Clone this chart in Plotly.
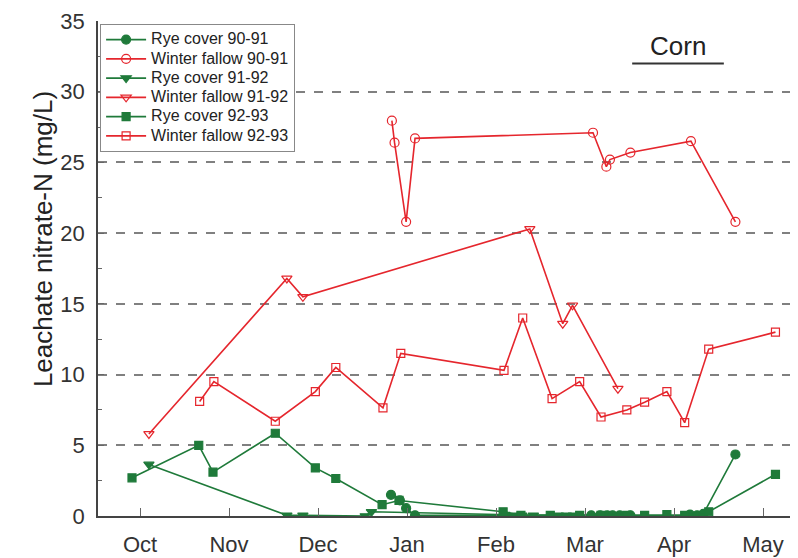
import plotly.graph_objects as go

# x = months after 1 Oct (tick 0 = Oct ... 7 = May)
month_ticks = [0, 1, 2, 3, 4, 5, 6, 7]
month_labels = ['Oct', 'Nov', 'Dec', 'Jan', 'Feb', 'Mar', 'Apr', 'May']

# Rye cover 90-91
rye_9091_x = [2.82, 2.92, 2.99, 3.09, 5.07, 5.17, 5.25, 5.31, 5.39, 5.51, 6.18, 6.26, 6.33, 6.69]
rye_9091_y = [1.5, 1.1, 0.55, 0.05, 0.05, 0.05, 0.05, 0.05, 0.05, 0.05, 0.1, 0.05, 0.15, 4.35]

# Winter fallow 90-91
fal_9091_x = [2.83, 2.86, 2.99, 3.09, 5.09, 5.24, 5.28, 5.51, 6.19, 6.69]
fal_9091_y = [27.95, 26.4, 20.8, 26.7, 27.1, 24.7, 25.2, 25.7, 26.5, 20.8]

# Rye cover 91-92
rye_9192_x = [0.10, 1.65, 1.83, 2.53, 2.60, 4.10, 4.19, 4.29, 4.42, 4.70, 4.79, 4.87, 5.37]
rye_9192_y = [3.65, 0.05, 0.05, 0.0, 0.3, 0.1, 0.05, 0.05, 0.05, 0.05, 0.05, 0.05, 0.05]

# Winter fallow 91-92
fal_9192_x = [0.10, 1.65, 1.83, 4.38, 4.75, 4.86, 5.37]
fal_9192_y = [5.8, 16.8, 15.5, 20.3, 13.6, 14.9, 9.0]

# Rye cover 92-93
rye_9293_x = [-0.09, 0.66, 0.82, 1.52, 1.97, 2.20, 2.72, 2.91, 4.08, 4.28, 4.61, 4.94,
              5.18, 5.47, 5.67, 5.92, 6.12, 6.39, 7.14]
rye_9293_y = [2.7, 5.0, 3.1, 5.85, 3.4, 2.65, 0.8, 1.1, 0.3, 0.05, 0.05, 0.05,
              0.05, 0.05, 0.05, 0.1, 0.05, 0.3, 2.95]

# Winter fallow 92-93
fal_9293_x = [0.67, 0.83, 1.52, 1.97, 2.20, 2.73, 2.93, 4.09, 4.30, 4.63, 4.94, 5.18,
              5.47, 5.67, 5.92, 6.12, 6.39, 7.14]
fal_9293_y = [8.1, 9.5, 6.7, 8.8, 10.5, 7.65, 11.5, 10.3, 14.0, 8.3, 9.5, 7.0,
              7.5, 8.05, 8.8, 6.6, 11.8, 13.0]

# corn season bar
corn_start, corn_end, corn_level = 5.53, 6.56, 32.0

GREEN = '#1f7a3a'
RED = '#e5262d'
FONT = 'Arial, Liberation Sans, sans-serif'

series = [
    ('Rye cover 90-91', rye_9091_x, rye_9091_y, GREEN, 'circle', 9),
    ('Winter fallow 90-91', fal_9091_x, fal_9091_y, RED, 'circle-open', 9),
    ('Rye cover 91-92', rye_9192_x, rye_9192_y, GREEN, 'triangle-down', 9),
    ('Winter fallow 91-92', fal_9192_x, fal_9192_y, RED, 'triangle-down-open', 9),
    ('Rye cover 92-93', rye_9293_x, rye_9293_y, GREEN, 'square', 8),
    ('Winter fallow 92-93', fal_9293_x, fal_9293_y, RED, 'square-open', 8),
]

fig = go.Figure()

# empty trace carrying the dashed grid on a second y axis
fig.add_trace(go.Scatter(x=[None], y=[None], yaxis='y2', showlegend=False, hoverinfo='skip'))

for name, xs, ys, col, sym, size in series:
    fig.add_trace(go.Scatter(
        x=xs, y=ys, mode='lines+markers',
        # bigger text inside a tighter legend row
        name=f'<span style="font-size:16px">{name}</span>',
        line=dict(color=col, width=1.6),
        marker=dict(symbol=sym, size=size, color=col,
                    line=dict(color=col, width=1.2)),
    ))

fig.add_annotation(x=(corn_start + corn_end) / 2, y=corn_level, yshift=17,
                   text='Corn', showarrow=False,
                   font=dict(family=FONT, size=26, color='#222'))
fig.add_shape(type='line', x0=corn_start, x1=corn_end, y0=corn_level, y1=corn_level,
              line=dict(color='#333', width=2))

# y title as a paper annotation (it sits above the plot centre in the original)
fig.add_annotation(xref='paper', yref='paper', x=-0.104, y=0.56, textangle=-90,
                   text='Leachate nitrate-N (mg/L)', showarrow=False,
                   font=dict(family=FONT, size=26, color='#222'))

# page body adds an 8px offset, so the figure is 8px smaller than the window
fig.update_layout(
    width=790, height=550,
    margin=dict(l=90, r=1, t=11, b=42),
    paper_bgcolor='white', plot_bgcolor='white',
    font=dict(family=FONT, color='#333'),
    legend=dict(x=0.003, y=0.994, xanchor='left', yanchor='top',
                bgcolor='white', bordercolor='#888', borderwidth=1,
                font=dict(family=FONT, size=12.5, color='#222'),
                tracegroupgap=0, itemwidth=40),
    xaxis=dict(range=[-0.472, 7.382], tickvals=month_ticks, ticktext=month_labels,
               ticks='inside', ticklen=8, tickcolor='#666', showgrid=False,
               showline=True, linecolor='#444', linewidth=1.5, zeroline=False,
               ticklabelstandoff=8,
               tickfont=dict(family=FONT, size=22, color='#333')),
    yaxis=dict(range=[0, 35], dtick=5, ticks='inside', ticklen=6, tickcolor='#666',
               minor=dict(dtick=2.5, ticks='inside', ticklen=4, tickcolor='#666', showgrid=False),
               showgrid=False, showline=True, linecolor='#444', linewidth=1.5,
               zeroline=False, ticklabelstandoff=7, ticklabeloverflow='allow',
               tickfont=dict(family=FONT, size=22, color='#333')),
    yaxis2=dict(range=[0, 35], overlaying='y', tickvals=[5, 10, 15, 20, 25, 30],
                showticklabels=False, ticks='', showgrid=True, gridcolor='#808080',
                gridwidth=1.5, griddash='dash', zeroline=False, showline=False),
)

# keep data above the grid axis
fig.data = fig.data[1:] + fig.data[:1]

fig.write_html('out.html')
